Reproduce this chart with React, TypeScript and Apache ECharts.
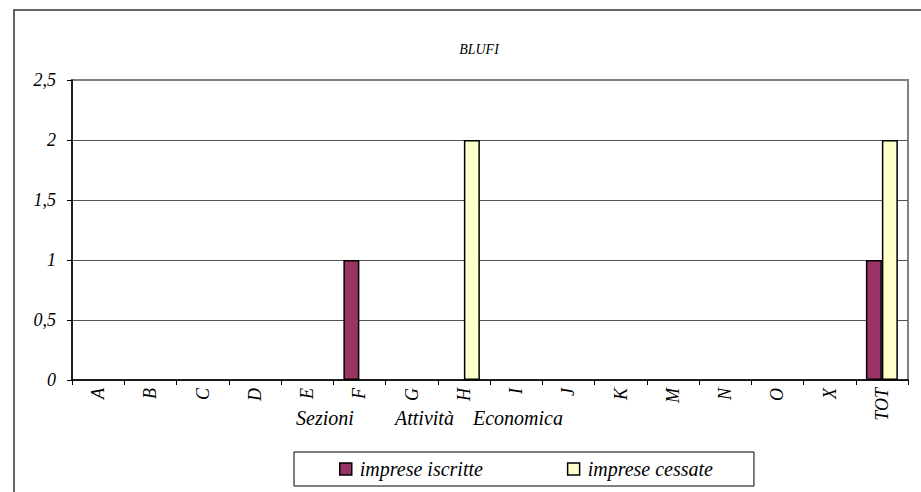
import React, { useEffect, useRef } from "react";
import * as echarts from "echarts";

const categories = ["A", "B", "C", "D", "E", "F", "G", "H", "I", "J", "K", "M", "N", "O", "X", "TOT"];
const impreseIscritte = [0, 0, 0, 0, 0, 1, 0, 0, 0, 0, 0, 0, 0, 0, 0, 1];
const impreseCessate = [0, 0, 0, 0, 0, 0, 0, 2, 0, 0, 0, 0, 0, 0, 0, 2];
const chartTitle = "BLUFI";
const axisNameWords = ["Sezioni", "Attività", "Economica"];

const FONT = "Liberation Serif";

export default function App() {
  const ref = useRef<HTMLDivElement>(null);
  useEffect(() => {
    if (!ref.current) return;
    const chart = echarts.init(ref.current, undefined, { renderer: "svg" });
    const clean = (arr: number[]) => arr.map((v) => (v === 0 ? null : v));
    const nameText = (text: string, x: number) => ({
      type: "text",
      x,
      y: 428,
      style: {
        text,
        fontFamily: FONT,
        fontStyle: "italic",
        fontSize: 20,
        fill: "#000",
        verticalAlign: "bottom",
      },
    });
    chart.setOption({
      animation: false,
      backgroundColor: "#ffffff",
      textStyle: { fontFamily: FONT, fontStyle: "italic", color: "#000" },
      title: {
        text: chartTitle,
        left: 474,
        top: 37,
        textAlign: "center",
        textStyle: { fontFamily: FONT, fontStyle: "italic", fontWeight: "normal", fontSize: 14, color: "#000" },
      },
      graphic: [
        {
          type: "rect",
          shape: { x: 14, y: 10, width: 1000, height: 1000 },
          style: { fill: "none", stroke: "#333", lineWidth: 1.5 },
          silent: true,
        },
        nameText(axisNameWords[0], 296),
        nameText(axisNameWords[1], 395),
        nameText(axisNameWords[2], 473),
      ],
      legend: {
        left: 294,
        top: 452,
        orient: "horizontal",
        padding: [7, 41, 7, 45],
        itemGap: 84,
        itemWidth: 12,
        itemHeight: 12,
        borderColor: "#000",
        borderWidth: 1,
        icon: "rect",
        itemStyle: { borderColor: "#000", borderWidth: 1.5 },
        textStyle: { fontFamily: FONT, fontStyle: "italic", fontSize: 20, color: "#000", padding: [0, 0, 0, 3] },
        data: ["imprese iscritte", "imprese cessate"],
      },
      grid: {
        left: 72,
        top: 80,
        width: 836,
        height: 300,
        show: true,
        borderColor: "#808080",
        borderWidth: 2,
        backgroundColor: "transparent",
        containLabel: false,
      },
      xAxis: {
        type: "category",
        data: categories,
        boundaryGap: true,
        axisLine: { lineStyle: { color: "#000", width: 1.5 } },
        axisTick: { show: true, length: 5, lineStyle: { color: "#000", width: 1 } },
        axisLabel: {
          rotate: 90,
          margin: 8,
          interval: 0,
          fontFamily: FONT,
          fontStyle: "italic",
          fontSize: 18,
          color: "#000",
        },
      },
      yAxis: {
        type: "value",
        min: 0,
        max: 2.5,
        interval: 0.5,
        axisLine: { show: true, lineStyle: { color: "#000", width: 1.5 } },
        axisTick: { show: true, length: 5, lineStyle: { color: "#000", width: 1 } },
        axisLabel: {
          margin: 16,
          fontFamily: FONT,
          fontStyle: "italic",
          fontSize: 18,
          color: "#000",
          formatter: (v: number) => String(v).replace(".", ","),
        },
        splitLine: { show: true, showMaxLine: false, lineStyle: { color: "#555", width: 1 } },
      },
      series: [
        {
          name: "imprese iscritte",
          type: "bar",
          data: clean(impreseIscritte),
          barWidth: 16,
          barGap: "0%",
          itemStyle: { color: "#993366", borderColor: "#000", borderWidth: 1.5 },
        },
        {
          name: "imprese cessate",
          type: "bar",
          data: clean(impreseCessate),
          barWidth: 16,
          barGap: "0%",
          itemStyle: { color: "#FFFFCC", borderColor: "#000", borderWidth: 1.5 },
        },
      ],
    });
    return () => chart.dispose();
  }, []);
  return (
    <div
      ref={ref}
      style={{ position: "fixed", left: 0, top: 0, width: 921, height: 492, background: "#fff" }}
    />
  );
}
